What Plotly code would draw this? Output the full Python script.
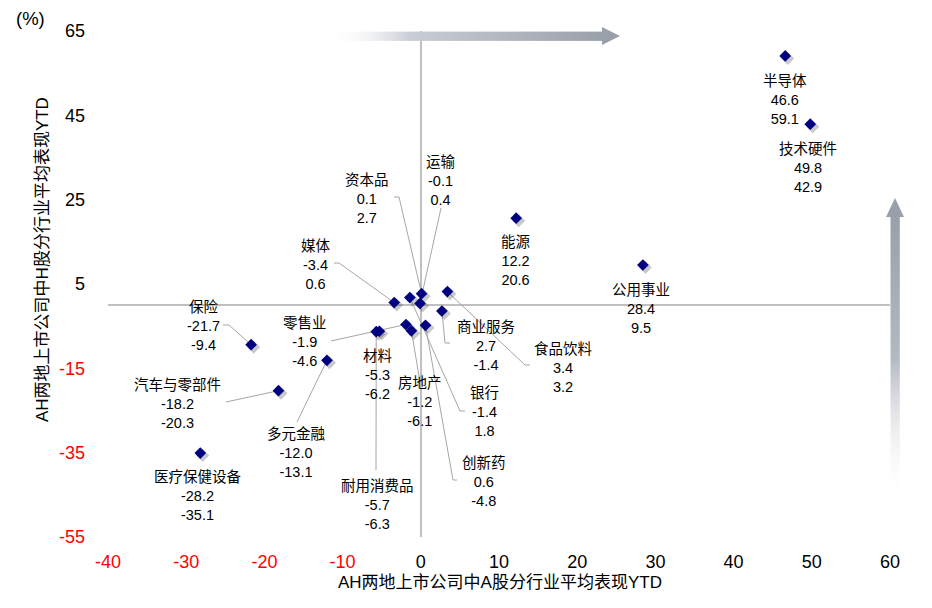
import base64
import plotly.graph_objects as go

# ---------------- data ----------------
sectors = ["半导体", "技术硬件", "公用事业", "能源", "运输", "资本品", "媒体", "保险",
           "零售业", "汽车与零部件", "多元金融", "医疗保健设备", "材料", "耐用消费品",
           "房地产", "银行", "创新药", "商业服务", "食品饮料"]
a_share = [46.6, 49.8, 28.4, 12.2, -0.1, 0.1, -3.4, -21.7,
           -1.9, -18.2, -12.0, -28.2, -5.3, -5.7,
           -1.2, -1.4, 0.6, 2.7, 3.4]
h_share = [59.1, 42.9, 9.5, 20.6, 0.4, 2.7, 0.6, -9.4,
           -4.6, -20.3, -13.1, -35.1, -6.2, -6.3,
           -6.1, 1.8, -4.8, -1.4, 3.2]
x_ticks = [-40, -30, -20, -10, 0, 10, 20, 30, 40, 50, 60]
y_ticks = [-55, -35, -15, 5, 25, 45, 65]
x_title = "AH两地上市公司中A股分行业平均表现YTD"
y_title = "AH两地上市公司中H股分行业平均表现YTD"
unit_text = "(%)"

# ---------------- layout geometry (pixels) ----------------
W, H = 932, 608
PL, PR, PT, PB = 108, 890, 31, 537   # plot area edges in pixels
XR = (-40, 60)
YR = (-55, 65)


def dx(px):
    return XR[0] + (px - PL) / (PR - PL) * (XR[1] - XR[0])


def dy(py):
    return YR[0] + (PB - py) / (PB - PT) * (YR[1] - YR[0])


def ppx(px):
    return (px - PL) / (PR - PL)


def ppy(py):
    return (PB - py) / (PB - PT)


# label centre (middle line) in pixels, plus optional leader path start points
label_pos = {
    "半导体": (785, 100), "技术硬件": (808, 168), "公用事业": (641, 309),
    "能源": (516, 261), "运输": (441, 181), "资本品": (367, 199),
    "媒体": (316, 265), "保险": (203, 326), "零售业": (305, 342),
    "汽车与零部件": (177, 404), "多元金融": (296, 453), "医疗保健设备": (198, 496),
    "材料": (377, 375), "耐用消费品": (377, 505), "房地产": (420, 402),
    "银行": (484, 412), "创新药": (484, 482), "商业服务": (486, 346),
    "食品饮料": (563, 368),
}
leader_start = {
    "运输": [(441, 208)],
    "资本品": [(394, 197), (399, 197)],
    "媒体": [(334, 263), (339, 263)],
    "保险": [(223, 325), (229, 325)],
    "零售业": [(331, 341)],
    "汽车与零部件": [(226, 402)],
    "多元金融": [(297, 422)],
    "耐用消费品": [(376, 470)],
    "房地产": [(420, 382)],
    "银行": [(465, 411), (460, 411)],
    "创新药": [(457, 480), (453, 480)],
    "商业服务": [(450, 343), (445, 343)],
    "食品饮料": [(530, 365), (525, 365)],
}

FONT = "Liberation Sans, Arial, Noto Sans CJK SC, sans-serif"
NAVY = "#000080"

fig = go.Figure()

# leader lines
lx, ly = [], []
for name, xa, yh in zip(sectors, a_share, h_share):
    if name in leader_start:
        for (px, py) in leader_start[name]:
            lx.append(dx(px))
            ly.append(dy(py))
        lx.append(xa)
        ly.append(yh)
        lx.append(None)
        ly.append(None)
fig.add_trace(go.Scatter(x=lx, y=ly, mode="lines",
                         line=dict(color="#a6a6a6", width=1),
                         hoverinfo="skip", showlegend=False))

# marker shadow (small pixel offset)
sx = (XR[1] - XR[0]) / (PR - PL) * 2.5
sy = (YR[1] - YR[0]) / (PB - PT) * 2.5
fig.add_trace(go.Scatter(x=[v + sx for v in a_share], y=[v - sy for v in h_share],
                         mode="markers",
                         marker=dict(symbol="diamond", size=10, color="rgba(60,60,60,0.28)",
                                     line=dict(width=0)),
                         hoverinfo="skip", showlegend=False))

# points
fig.add_trace(go.Scatter(x=a_share, y=h_share, mode="markers", text=sectors,
                         marker=dict(symbol="diamond", size=9, color=NAVY,
                                     line=dict(width=0)),
                         showlegend=False))

annotations = []
for name, xa, yh in zip(sectors, a_share, h_share):
    cx, cy = label_pos[name]
    annotations.append(dict(
        x=dx(cx), y=dy(cy), xref="x", yref="y",
        text=f"{name}<br>{xa:.1f}<br>{yh:.1f}",
        showarrow=False, xanchor="center", yanchor="middle", align="center",
        font=dict(family=FONT, size=14.5, color="#000000")))

annotations.append(dict(x=ppx(500), y=ppy(582), xref="paper", yref="paper",
                        text=x_title, showarrow=False, xanchor="center", yanchor="middle",
                        font=dict(family=FONT, size=17, color="#000000")))
annotations.append(dict(x=ppx(42), y=ppy(260), xref="paper", yref="paper",
                        text=y_title, showarrow=False, textangle=-90,
                        xanchor="center", yanchor="middle",
                        font=dict(family=FONT, size=17, color="#000000")))
annotations.append(dict(x=ppx(30), y=ppy(19), xref="paper", yref="paper",
                        text=unit_text, showarrow=False, xanchor="center", yanchor="middle",
                        font=dict(family=FONT, size=18.5, color="#000000")))


def tick_text(v):
    return f"<span style='color:#ff0000'>{v}</span>" if v < 0 else str(v)


# gradient arrows as inline SVG images
def svg_uri(svg):
    return "data:image/svg+xml;base64," + base64.b64encode(svg.encode("utf-8")).decode("ascii")


h_arrow = ("<svg xmlns='http://www.w3.org/2000/svg' width='293' height='18' viewBox='0 0 293 18'>"
           "<defs><linearGradient id='g' x1='0' y1='0' x2='1' y2='0'>"
           "<stop offset='0' stop-color='#ffffff' stop-opacity='0'/>"
           "<stop offset='0.3' stop-color='#c9cdd4'/>"
           "<stop offset='1' stop-color='#9aa0aa'/></linearGradient></defs>"
           "<rect x='0' y='4.6' width='276' height='9.3' fill='url(#g)'/>"
           "<polygon points='275,0 293,9 275,18' fill='#9aa0aa'/></svg>")
v_arrow = ("<svg xmlns='http://www.w3.org/2000/svg' width='18' height='302' viewBox='0 0 18 302'>"
           "<defs><linearGradient id='g' x1='0' y1='0' x2='0' y2='1'>"
           "<stop offset='0' stop-color='#9aa0aa'/>"
           "<stop offset='0.5' stop-color='#b3b8c1'/>"
           "<stop offset='1' stop-color='#ffffff' stop-opacity='0'/></linearGradient></defs>"
           "<rect x='4.5' y='18' width='9.3' height='284' fill='url(#g)'/>"
           "<polygon points='0,19 9,0 18,19' fill='#9aa0aa'/></svg>")

images = [
    dict(source=svg_uri(h_arrow), xref="paper", yref="paper",
         x=ppx(327), y=ppy(27), sizex=293 / (PR - PL), sizey=18 / (PB - PT),
         xanchor="left", yanchor="top", sizing="stretch", layer="above"),
    dict(source=svg_uri(v_arrow), xref="paper", yref="paper",
         x=ppx(886), y=ppy(198), sizex=18 / (PR - PL), sizey=302 / (PB - PT),
         xanchor="left", yanchor="top", sizing="stretch", layer="above"),
]

fig.update_layout(
    width=W, height=H, autosize=False,
    margin=dict(l=PL, r=W - PR, t=PT, b=H - PB, pad=0),
    plot_bgcolor="#ffffff", paper_bgcolor="#ffffff",
    font=dict(family=FONT, color="#000000"),
    annotations=annotations, images=images,
    xaxis=dict(range=list(XR), showgrid=False, showline=False,
               zeroline=True, zerolinecolor="#c0c0c0", zerolinewidth=1.5,
               tickmode="array", tickvals=x_ticks, ticktext=[tick_text(v) for v in x_ticks],
               ticks="", ticklabelstandoff=12, tickfont=dict(size=18, family=FONT),
               fixedrange=True),
    yaxis=dict(range=list(YR), showgrid=False, showline=False,
               zeroline=True, zerolinecolor="#c0c0c0", zerolinewidth=1.5,
               tickmode="array", tickvals=y_ticks, ticktext=[tick_text(v) for v in y_ticks],
               ticks="", ticklabelstandoff=22, tickfont=dict(size=18, family=FONT),
               fixedrange=True),
)

fig.write_html("out.html",
               config={"displayModeBar": False},
               post_script="document.body.style.margin='0';document.body.style.padding='0';"
                           "document.documentElement.style.overflow='hidden';")
